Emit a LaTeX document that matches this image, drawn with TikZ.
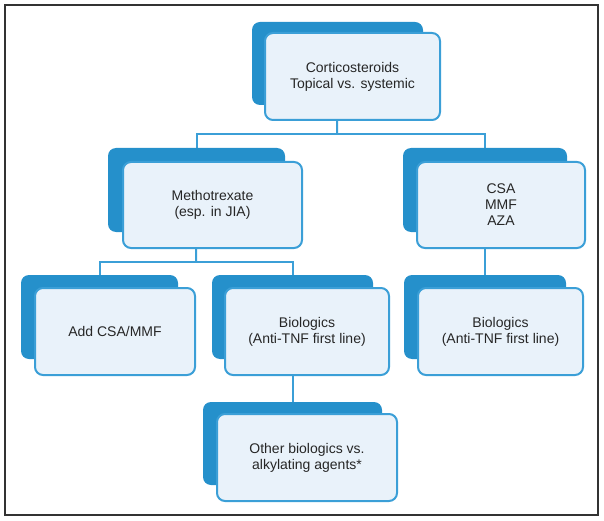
\documentclass[tikz,border=0pt]{standalone}
\usepackage{fontspec}
\setmainfont{Liberation Sans}
\usetikzlibrary{backgrounds}
\definecolor{backblue}{HTML}{2590CB}
\definecolor{lineblue}{HTML}{3B9FD7}
\definecolor{paleblue}{HTML}{E9F2FA}
\definecolor{framegray}{HTML}{333333}
\tikzset{
  backbox/.style={rectangle, rounded corners=8pt, fill=backblue},
  frontbox/.style={rectangle, rounded corners=8pt, draw=lineblue, line width=2pt, fill=paleblue,
    align=center, text=black!85, font=\fontsize{14}{16}\selectfont},
  link/.style={draw=lineblue, line width=2pt}
}
\begin{document}
\begin{tikzpicture}[x=1pt,y=-1pt]
        \useasboundingbox (0,0) rectangle (604,521);
        \draw[framegray, line width=1.5pt] (5,5) rectangle (598,515);
        \node[backbox, minimum width=171pt, minimum height=83pt] (corticoB) at (337.5,63.5) {};
        \node[frontbox, minimum width=175pt, minimum height=87pt] (cortico) at (352.5,76.5) {Corticosteroids\\Topical vs. systemic};
        \node[backbox, minimum width=177pt, minimum height=84pt] (methoB) at (196.5,190) {};
        \node[frontbox, minimum width=179pt, minimum height=86pt] (metho) at (212.5,205) {Methotrexate\\(esp. in JIA)};
        \node[backbox, minimum width=164pt, minimum height=84pt] (csaB) at (485,190) {};
        \node[frontbox, minimum width=168pt, minimum height=86pt] (csa) at (501,205) {CSA\\MMF\\AZA};
        \node[backbox, minimum width=157pt, minimum height=84pt] (addB) at (99.5,317) {};
        \node[frontbox, minimum width=160pt, minimum height=87pt] (add) at (115,331.5) {Add CSA/MMF};
        \node[backbox, minimum width=161pt, minimum height=84pt] (bioB) at (292.5,317) {};
        \node[frontbox, minimum width=164pt, minimum height=87pt] (bio) at (307,331.5) {Biologics\\(Anti-TNF first line)};
        \node[backbox, minimum width=162pt, minimum height=84pt] (bioTwoB) at (485,317) {};
        \node[frontbox, minimum width=165pt, minimum height=87pt] (bioTwo) at (500.5,331.5) {Biologics\\(Anti-TNF first line)};
        \node[backbox, minimum width=179pt, minimum height=83pt] (otherB) at (292.5,443.5) {};
        \node[frontbox, minimum width=180pt, minimum height=87pt] (other) at (307,457.5) {Other biologics vs.\\alkylating agents*};
        \coordinate (splitA) at (337,134);
        \coordinate (splitB) at (196,262);
        \begin{scope}[on background layer]
            \draw[link] (corticoB.south) -- (splitA);
            \draw[link] (methoB.north) |- (splitA) -| (csaB.north);
            \draw[link] (methoB.south) -- (splitB);
            \draw[link] (addB.north) |- (splitB) -| (bioB.north);
            \draw[link] (csaB.south) -- (bioTwoB.north);
            \draw[link] (bioB.south) -- (otherB.north);
        \end{scope}
    \end{tikzpicture}
\end{document}
